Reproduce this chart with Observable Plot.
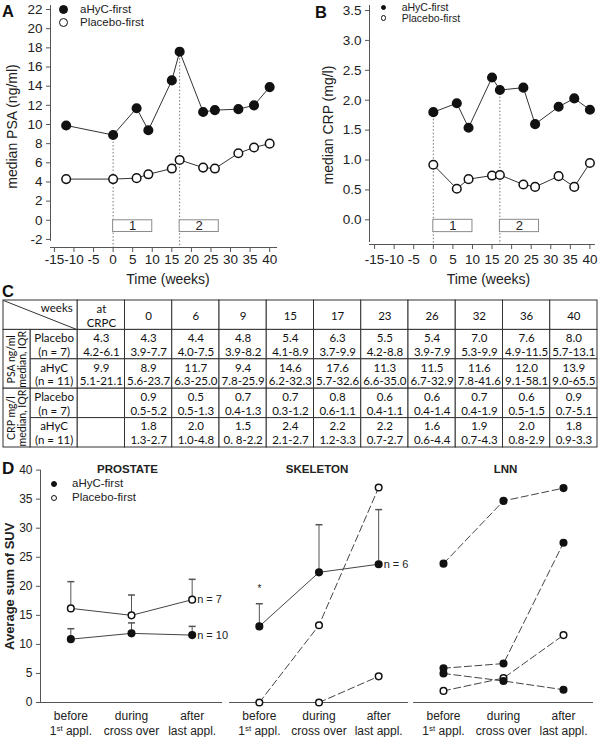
<!DOCTYPE html>
<html>
<head>
<meta charset="utf-8">
<script src="https://cdn.jsdelivr.net/npm/d3@7"></script>
<script src="https://cdn.jsdelivr.net/npm/@observablehq/plot@0.6"></script>
<style>
html,body{margin:0;padding:0;background:#fff;}
#wrap{position:relative;width:600px;height:737px;overflow:hidden;background:#fff;font-family:'Liberation Sans',Arial,sans-serif;color:#111;}
.pane{position:absolute;}
.pane svg{overflow:visible;display:block;}
.tag{position:absolute;font-weight:bold;line-height:1;color:#111;}
.leg{position:absolute;white-space:nowrap;color:#222;}
.ldot{position:absolute;box-sizing:border-box;border:1px solid #111;border-radius:50%;}
</style>
</head>
<body>
<div id="wrap"></div>
<script>
// ---------- DATA ----------
const crpcWeek = -12;
const weeks = [0, 6, 9, 15, 17, 23, 26, 32, 36, 40];
const psaWeeks = [crpcWeek, ...weeks];
const psaAhyc    = [9.9, 8.9, 11.7, 9.4, 14.6, 17.6, 11.3, 11.5, 11.6, 12.0, 13.9];
const psaPlacebo = [4.3, 4.3, 4.4, 4.8, 5.4, 6.3, 5.5, 5.4, 7.0, 7.6, 8.0];
const crpAhyc    = [1.80, 1.95, 1.54, 2.38, 2.17, 2.21, 1.60, 1.89, 2.03, 1.84];
const crpPlacebo = [0.92, 0.52, 0.68, 0.74, 0.75, 0.59, 0.55, 0.73, 0.55, 0.95];
const phases = [{label: "1", start: 0, end: 10}, {label: "2", start: 17, end: 27}];
const timeTicks = [-15, -10, -5, 0, 5, 10, 15, 20, 25, 30, 35, 40];
const psaTicks = [-2, 0, 2, 4, 6, 8, 10, 12, 14, 16, 18, 20, 22];
const crpTicks = [0, 0.5, 1, 1.5, 2, 2.5, 3, 3.5];
const groupNames = ["aHyC-first", "Placebo-first"];

// table
const tableCols = ["at\nCRPC", "0", "6", "9", "15", "17", "23", "26", "32", "36", "40"];
const psaPlaceboMed = ["4.3","4.3","4.4","4.8","5.4","6.3","5.5","5.4","7.0","7.6","8.0"];
const psaPlaceboIQR = ["4.2-6.1","3.9-7.7","4.0-7.5","3.9-8.2","4.1-8.9","3.7-9.9","4.2-8.8","3.9-7.9","5.3-9.9","4.9-11.5","5.7-13.1"];
const psaAhycMed = ["9.9","8.9","11.7","9.4","14.6","17.6","11.3","11.5","11.6","12.0","13.9"];
const psaAhycIQR = ["5.1-21.1","5.6-23.7","6.3-25.0","7.8-25.9","6.2-32.3","5.7-32.6","6.6-35.0","6.7-32.9","7.8-41.6","9.1-58.1","9.0-65.5"];
const crpPlaceboMed = ["","0.9","0.5","0.7","0.7","0.8","0.6","0.6","0.7","0.6","0.9"];
const crpPlaceboIQR = ["","0.5-5.2","0.5-1.3","0.4-1.3","0.3-1.2","0.6-1.1","0.4-1.1","0.4-1.4","0.4-1.9","0.5-1.5","0.7-5.1"];
const crpAhycMed = ["","1.8","2.0","1.5","2.4","2.2","2.2","1.6","1.9","2.0","1.8"];
const crpAhycIQR = ["","1.3-2.7","1.0-4.8","0. 8-2.2","2.1-2.7","1.2-3.3","0.7-2.7","0.6-4.4","0.7-4.3","0.8-2.9","0.9-3.3"];
const rowLabels = ["Placebo\n(n = 7)", "aHyC\n(n = 11)", "Placebo\n(n = 7)", "aHyC\n(n = 11)"];
const groupLabels = ["PSA ng/ml\nmedian, IQR", "CRP mg/l\nmedian, IQR"];

// panel D
const catLabels = ["before\n1st appl.", "during\ncross over", "after\nlast appl."];
const suvTicks = [0, 5, 10, 15, 20, 25, 30, 35, 40];
const prostatePlacebo = [16.2, 15.0, 17.7];
const prostatePlaceboUpper = [20.8, 18.5, 21.2];
const prostateAhyc = [10.9, 11.9, 11.6];
const prostateAhycUpper = [12.7, 13.7, 13.1];
const skeletonAhyc = [13.1, 22.4, 23.8];
const skeletonAhycUpper = [17.0, 30.6, 33.2];
const skeletonStars = ["*", null, null];
const skeletonStarLevel = [19.6, null, null];
const skeletonPlaceboPatients = [[0, 13.3, 37.0], [null, 0, 4.5]];
const lnnAhycPatients = [[23.9, 34.7, 36.9], [5.9, 6.7, 27.5], [5.0, 3.7, 2.2]];
const lnnPlaceboPatients = [[2.0, 4.2, 11.6]];

// ---------- HELPERS ----------
const FONT = "'Liberation Sans', Arial, sans-serif";
const TFONT = "Lato, 'Liberation Sans', sans-serif";
const wrap = document.getElementById("wrap");
function place(node, left, top) {
  const d = document.createElement("div");
  d.className = "pane"; d.style.left = left + "px"; d.style.top = top + "px";
  d.appendChild(node); wrap.appendChild(d);
}
function tag(text, left, top, size) {
  const d = document.createElement("div");
  d.className = "tag"; d.textContent = text;
  d.style.left = left + "px"; d.style.top = top + "px"; d.style.fontSize = size + "px";
  wrap.appendChild(d);
}
function legend(x, textX, y0, dy, r, fontSize) {
  groupNames.forEach((name, i) => {
    const cy = y0 + i * dy;
    const dot = document.createElement("div");
    dot.className = "ldot";
    dot.style.cssText += `left:${x - r}px;top:${cy - r}px;width:${2 * r}px;height:${2 * r}px;background:${i === 0 ? "#111" : "#fff"};`;
    wrap.appendChild(dot);
    const t = document.createElement("div");
    t.className = "leg"; t.textContent = name;
    t.style.cssText += `left:${textX}px;top:${cy - fontSize * 0.6}px;font-size:${fontSize}px;line-height:${fontSize * 1.15}px;`;
    wrap.appendChild(t);
  });
}

// ---------- PANELS A / B ----------
function timePanel(o) {
  const a = o.valsA.map((v, i) => ({group: groupNames[0], week: o.weeksA[i], value: v}));
  const p = o.valsP.map((v, i) => ({group: groupNames[1], week: o.weeksP[i], value: v}));
  const data = [...a, ...p];
  const starts = phases.map(ph => ({week: ph.start, value: a.find(d => d.week === ph.start).value}));
  return Plot.plot({
    width: 300, height: 292,
    marginLeft: o.ml, marginRight: o.mr, marginTop: 5, marginBottom: o.mb,
    x: {domain: o.xDomain}, y: {domain: o.yDomain},
    style: {fontFamily: FONT, fontSize: "13.5px", color: "#222", background: "transparent", overflow: "visible"},
    marks: [
      Plot.ruleX([o.xDomain[0]], {y1: o.yAxisEnd, y2: o.yDomain[1], stroke: "#555"}),
      Plot.ruleY([o.yDomain[0]], {stroke: "#555"}),
      Plot.axisY({ticks: o.yTicks, tickFormat: o.fmt, tickSize: 4, tickPadding: 4, label: null, stroke: "#555"}),
      Plot.axisX({ticks: timeTicks, tickFormat: d => String(d), tickSize: 5, tickPadding: o.xPad, label: null, stroke: "#555"}),
      Plot.ruleX(starts, {x: "week", y1: "value", y2: o.yDomain[0], stroke: "#777", strokeDasharray: "1.5,2"}),
      Plot.rect(phases, {x1: "start", x2: "end", y1: 0, y2: -o.boxH, fill: "white", stroke: "#8a8a8a"}),
      Plot.text(phases, {x: d => (d.start + d.end) / 2, y: -o.boxH / 2, text: "label", fontSize: 13}),
      Plot.line(data, {x: "week", y: "value", z: "group", stroke: "#333", strokeWidth: 1}),
      Plot.dot(p, {x: "week", y: "value", r: 4.3, fill: "white", stroke: "#111"}),
      Plot.dot(a, {x: "week", y: "value", r: 4.3, fill: "#111", stroke: "#111"}),
      Plot.text([o.xlab], {frameAnchor: "bottom", textAnchor: "middle", dy: o.xlabDy, dx: o.xlabDx, fontSize: 14, text: d => d}),
      Plot.text([o.ylab], {frameAnchor: "left", textAnchor: "middle", dx: o.ylabDx, rotate: -90, fontSize: 14, text: d => d})
    ]
  });
}

place(timePanel({
  weeksA: psaWeeks, valsA: psaAhyc, weeksP: psaWeeks, valsP: psaPlacebo,
  xDomain: [-16, 42], yDomain: [-2.84, 22.42], ml: 50, mr: 23, mb: 45,
  yTicks: psaTicks, fmt: d => String(d), yAxisEnd: -2.2, xPad: 2, boxH: 1.22,
  xlab: "Time (weeks)", xlabDx: 4, xlabDy: 36, ylab: "median PSA (ng/ml)", ylabDx: -37.5
}), 0, 0);

place(timePanel({
  weeksA: weeks, valsA: crpAhyc, weeksP: weeks, valsP: crpPlacebo,
  xDomain: [-16.3, 41.4], yDomain: [-0.413, 3.584], ml: 69, mr: 5.1, mb: 48,
  yTicks: crpTicks, fmt: d => d.toFixed(1), yAxisEnd: -0.38, xPad: 5, boxH: 0.206,
  xlab: "Time (weeks)", xlabDx: 6, xlabDy: 39, ylab: "median CRP (mg/l)", ylabDx: -41
}), 300, 0);

legend(63, 80, 9.5, 13, 4.5, 11.5);
legend(383.5, 401.7, 7.5, 10.5, 2.8, 10.5);
tag("A", 2, 3, 16.5);
tag("B", 315, 4, 16.5);

// ---------- TABLE C ----------
const GW = 27 / 47.26;
const cells = [];
const corner = {x1: -GW, x2: 1, y1: 0, y2: 1, text: ""};
cells.push(corner);
tableCols.forEach((t, c) => cells.push({x1: c + 1, x2: c + 2, y1: 0, y2: 1, text: t}));
const rowDefs = [
  [psaPlaceboMed, psaPlaceboIQR], [psaAhycMed, psaAhycIQR],
  [crpPlaceboMed, crpPlaceboIQR], [crpAhycMed, crpAhycIQR]
];
rowDefs.forEach(([med, iqr], ri) => {
  const r = ri + 1;
  cells.push({x1: 0, x2: 1, y1: r, y2: r + 1, text: rowLabels[ri]});
  med.forEach((m, c) => cells.push({x1: c + 1, x2: c + 2, y1: r, y2: r + 1, text: m ? m + "\n" + iqr[c] : ""}));
});
const groupCells = groupLabels.map((g, gi) => ({x1: -GW, x2: 0, y1: 1 + 2 * gi, y2: 3 + 2 * gi, text: g}));

const table = Plot.plot({
  width: 600, height: 155, marginLeft: 3, marginRight: 3, marginTop: 5, marginBottom: 3,
  x: {domain: [-GW, 12], axis: null}, y: {domain: [0, 5], reverse: true, axis: null},
  style: {fontFamily: TFONT, fontSize: "11px", color: "#111", background: "transparent", overflow: "visible"},
  marks: [
    Plot.rect([...cells, ...groupCells], {x1: "x1", x2: "x2", y1: "y1", y2: "y2", fill: "white", stroke: "#333", strokeWidth: 1}),
    Plot.link([corner], {x1: "x1", y1: "y1", x2: "x2", y2: "y2", stroke: "#333"}),
    Plot.text(cells, {x: d => (d.x1 + d.x2) / 2, y: d => (d.y1 + d.y2) / 2, text: "text", lineHeight: 1.2, fontSize: 11.5}),
    Plot.text(groupCells, {x: d => (d.x1 + d.x2) / 2, y: d => (d.y1 + d.y2) / 2, text: "text", rotate: -90, lineHeight: 1.05, fontSize: 10.5}),
    Plot.text([corner], {x: "x2", y: "y1", text: () => "weeks", textAnchor: "end", lineAnchor: "top", dx: -5, dy: 3, fontSize: 11.5})
  ]
});
place(table, 0, 295);
tag("C", 2, 283, 16.5);

// ---------- PANEL D ----------
const cap = {draw(ctx, size) { const r = Math.sqrt(size / Math.PI); ctx.moveTo(-r, 0); ctx.lineTo(r, 0); }};
const xi = d => d.i + 0.5;
function pts(id, values, extra) {
  return values.map((v, i) => ({id, i, v, ...extra(i)})).filter(d => d.v != null);
}
function suvPanel(o) {
  const mean = o.means.flatMap(m => pts(m.id, m.values, i => ({u: m.upper[i], open: m.open, n: m.n})));
  const dash = o.patients.flatMap(p => pts(p.id, p.values, () => ({open: p.open})));
  const all = [...dash, ...mean];
  const stars = o.stars ? o.stars.map((s, i) => ({i, s, v: o.starLevel[i]})).filter(d => d.s) : [];
  const marks = [
    Plot.ruleY([0], {stroke: "#555"}),
    o.yAxis ? Plot.ruleX([0], {y1: 0, y2: 40, stroke: "#555"}) : null,
    o.yAxis ? Plot.axisY({ticks: suvTicks, tickSize: 4, tickPadding: 4, label: null, stroke: "#555", fontSize: 12}) : null,
    Plot.line(dash, {x: xi, y: "v", z: "id", stroke: "#444", strokeDasharray: "7,3.5", strokeWidth: 1}),
    Plot.ruleX(mean, {x: xi, y1: "v", y2: "u", stroke: "#555"}),
    Plot.dot(mean, {x: xi, y: "u", symbol: cap, r: 3.5, stroke: "#555", fill: "none"}),
    Plot.line(mean, {x: xi, y: "v", z: "id", stroke: "#444", strokeWidth: 1}),
    Plot.dot(all.filter(d => d.open), {x: xi, y: "v", r: 3.3, fill: "white", stroke: "#111"}),
    Plot.dot(all.filter(d => !d.open), {x: xi, y: "v", r: 3.3, fill: "#111", stroke: "#111"}),
    Plot.text(mean.filter(d => d.n && d.i === 2), {x: xi, y: "v", text: "n", textAnchor: "start", dx: 5, fontSize: 11}),
    Plot.text(stars, {x: xi, y: "v", text: "s", fontSize: 10}),
    Plot.text(catLabels, {x: (d, i) => i + 0.5, text: d => d, frameAnchor: "bottom", textAnchor: "middle", lineAnchor: "top", dy: 7, fontSize: 12, lineHeight: 1.25}),
    Plot.text([o.title], {text: d => d, frameAnchor: "top", textAnchor: "middle", dy: -5, dx: o.titleDx, fontWeight: "bold", fontSize: 11.5}),
    o.yAxis ? Plot.text(["Average sum of SUV"], {text: d => d, frameAnchor: "left", textAnchor: "middle", dx: -31, rotate: -90, fontWeight: "bold", fontSize: 13}) : null
  ].filter(Boolean);
  const svg = Plot.plot({
    width: o.width, height: 282, marginLeft: o.ml, marginRight: o.mr, marginTop: 14.6, marginBottom: 35,
    x: {domain: [0, 3], axis: null}, y: {domain: [0, 40], axis: null},
    style: {fontFamily: FONT, fontSize: "12px", color: "#222", background: "transparent", overflow: "visible"},
    marks
  });
  // superscript "st"
  svg.querySelectorAll("tspan").forEach(ts => {
    if (ts.textContent === "1st appl.") {
      const NS = "http://www.w3.org/2000/svg";
      ts.textContent = "1";
      const s = document.createElementNS(NS, "tspan");
      s.setAttribute("dy", "-4"); s.setAttribute("font-size", "8"); s.textContent = "st";
      const r = document.createElementNS(NS, "tspan");
      r.setAttribute("dy", "4"); r.textContent = " appl.";
      ts.appendChild(s); ts.appendChild(r);
    }
  });
  return svg;
}

place(suvPanel({
  title: "PROSTATE", width: 240, ml: 40, mr: 18, yAxis: true, titleDx: -4,
  means: [
    {id: "p", values: prostatePlacebo, upper: prostatePlaceboUpper, open: true, n: "n = 7"},
    {id: "a", values: prostateAhyc, upper: prostateAhycUpper, open: false, n: "n = 10"}
  ],
  patients: []
}), 0, 455);

place(suvPanel({
  title: "SKELETON", width: 200, ml: 7, mr: 14, yAxis: false, titleDx: -2,
  means: [{id: "a", values: skeletonAhyc, upper: skeletonAhycUpper, open: false, n: "n = 6"}],
  patients: skeletonPlaceboPatients.map((v, k) => ({id: "sp" + k, values: v, open: true})),
  stars: skeletonStars, starLevel: skeletonStarLevel
}), 222, 455);

place(suvPanel({
  title: "LNN", width: 195, ml: 8, mr: 7, yAxis: false, titleDx: 2,
  means: [],
  patients: [
    ...lnnPlaceboPatients.map((v, k) => ({id: "lp" + k, values: v, open: true})),
    ...lnnAhycPatients.map((v, k) => ({id: "la" + k, values: v, open: false}))
  ]
}), 405, 455);

legend(54.3, 72, 483.5, 14, 3, 11.5);
tag("D", 2, 460, 17);
</script>
</body>
</html>
